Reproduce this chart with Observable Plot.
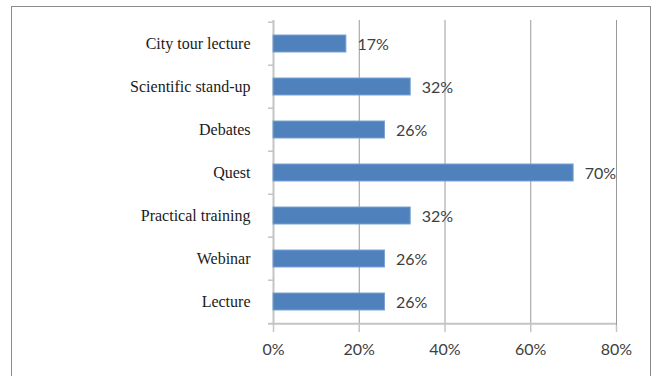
<!DOCTYPE html>
<html>
<head>
<meta charset="utf-8">
<script src="https://cdn.jsdelivr.net/npm/d3@7"></script>
<script src="https://cdn.jsdelivr.net/npm/@observablehq/plot@0.6"></script>
<style>
  html, body { margin: 0; padding: 0; background: #fff; }
  #wrap { position: relative; width: 656px; height: 376px; overflow: hidden; }
  #frame { position: absolute; left: 11px; top: 6px; width: 640px; height: 400px;
           border: 1.5px solid #8c8c8c; box-sizing: border-box; }
  #chart { position: absolute; left: 0; top: 0; }
</style>
</head>
<body>
<div id="wrap">
  <div id="frame"></div>
  <div id="chart"></div>
</div>
<script>
// Share of respondents choosing each event format
const categories = ["City tour lecture", "Scientific stand-up", "Debates", "Quest",
                    "Practical training", "Webinar", "Lecture"];
const shares = [17, 32, 26, 70, 32, 26, 26];
const xTicks = [0, 20, 40, 60, 80];

const data = categories.map((name, i) => ({name, value: shares[i]}));

const width = 656, height = 376;
const marginTop = 20, marginBottom = 51, marginLeft = 273, marginRight = 40;
const step = (height - marginTop - marginBottom) / categories.length;

const serif = "'Liberation Serif', 'Times New Roman', serif";
const sans = "Lato, 'Open Sans', sans-serif";

const plot = Plot.plot({
  width, height, marginTop, marginBottom, marginLeft, marginRight,
  style: {background: "transparent", overflow: "visible"},
  x: {domain: [0, 80], ticks: xTicks, tickFormat: d => d + "%"},
  y: {domain: categories, paddingInner: 0.6, paddingOuter: 0.3},
  marks: [
    // vertical gridlines
    Plot.ruleX(xTicks.slice(1), {stroke: "#9a9a9a", strokeWidth: 1}),
    // category axis line and boundary ticks
    Plot.ruleX([0], {stroke: "#c4c4c4", strokeWidth: 2}),
    Plot.ruleY(categories, {y: d => d, x1: 0, x2: 0, insetLeft: -5, dy: -step / 2,
                            stroke: "#c4c4c4", strokeWidth: 1.5}),
    // bottom value axis line and ticks
    Plot.ruleY([categories[categories.length - 1]], {x1: 0, x2: 80, insetLeft: -5, dy: step / 2,
                            stroke: "#c4c4c4", strokeWidth: 2}),
    Plot.axisX({ticks: xTicks, tickFormat: d => d + "%", tickSize: 7, tickPadding: 11,
                stroke: "#c4c4c4", strokeWidth: 1.5, label: null,
                fontSize: 16, fontFamily: sans, fill: "#404040"}),
    Plot.axisY({tickSize: 0, tickPadding: 23, label: null,
                fontSize: 16, fontFamily: serif, fill: "#1a1a1a"}),
    // bars
    Plot.barX(data, {y: "name", x: "value", fill: "#4f81bd", stroke: "#7aa1d2", strokeWidth: 1}),
    // value labels
    Plot.text(data, {y: "name", x: "value", text: d => d.value + "%", dx: 11, dy: 1,
                     textAnchor: "start", fontSize: 16, fontFamily: sans, fill: "#404040"})
  ]
});
document.getElementById("chart").appendChild(plot);
</script>
</body>
</html>
